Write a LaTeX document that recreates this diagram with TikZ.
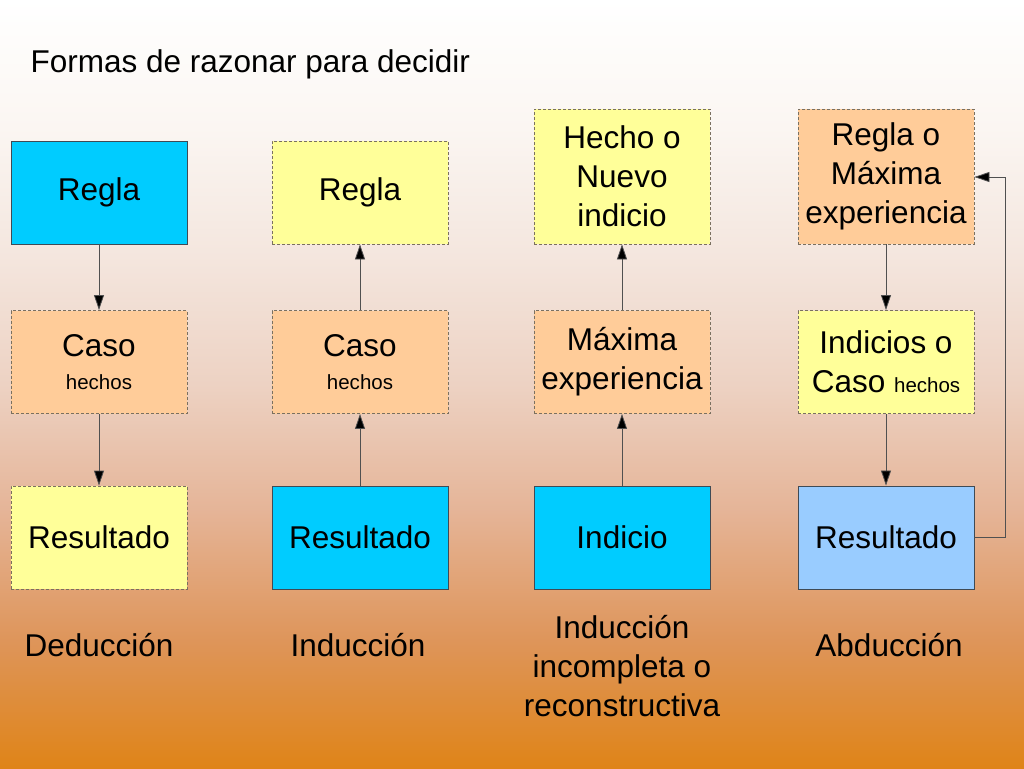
\documentclass[tikz,border=0pt]{standalone}
\usepackage{fontspec}
\setmainfont{Liberation Sans}
\usetikzlibrary{arrows.meta}
\definecolor{bg0}{HTML}{DF8418}
\definecolor{bg1}{HTML}{DE955A}
\definecolor{bg2}{HTML}{E5B497}
\definecolor{bg3}{HTML}{EDD2C3}
\definecolor{bg4}{HTML}{F4E6DE}
\definecolor{bg5}{HTML}{FBF6F2}
\definecolor{bg6}{HTML}{FFFFFF}
\definecolor{cblue}{HTML}{00CCFF}
\definecolor{cyel}{HTML}{FFFF99}
\definecolor{cpeach}{HTML}{FFCC99}
\definecolor{clblue}{HTML}{99CCFF}
\definecolor{cborder}{HTML}{3F4A55}
\definecolor{cdash}{HTML}{7A7060}
\definecolor{carrow}{HTML}{505050}
\pgfdeclareverticalshading{bgshade}{100bp}{
  color(0bp)=(bg0); color(25bp)=(bg0); color(33.3bp)=(bg1); color(41.7bp)=(bg2);
  color(50bp)=(bg3); color(58.3bp)=(bg4); color(66.7bp)=(bg5); color(75bp)=(bg6); color(100bp)=(bg6)}
\tikzset{
  box/.style={rectangle, minimum width=176pt, minimum height=103pt, inner sep=2pt,
    align=center, font=\fontsize{31.5}{39}\selectfont, text=black},
  solidbox/.style={box, draw=cborder, line width=0.9pt},
  dashbox/.style={box, draw=cdash, line width=0.8pt, dash pattern=on 3pt off 2pt},
  tallbox/.style={minimum height=135pt},
  conn/.style={draw=carrow, line width=0.8pt, -{Triangle[length=15pt,width=10pt,fill=black]}},
  lbl/.style={align=center, font=\fontsize{31.5}{39}\selectfont, text=black},
}
\newcommand{\smallhechos}{{\fontsize{20.5}{24}\selectfont hechos}}
\begin{document}
\begin{tikzpicture}[x=1pt,y=1pt]
\useasboundingbox (0,0) rectangle (1024,-768);
\shade[shading=bgshade] (0,0) rectangle (1024,-768);

\node[lbl, anchor=west] (title) at (27,-64) {Formas de razonar para decidir};

% column 1
\node[solidbox, fill=cblue] (r1) at (99,-192.5) {Regla};
\node[dashbox, fill=cpeach] (c1) at (99,-362) {Caso\\[-6pt]\smallhechos};
\node[dashbox, fill=cyel] (s1) at (99,-537.5) {Resultado};
\node[lbl] (l1) at (99,-645) {Deducción};

% column 2
\node[dashbox, fill=cyel] (r2) at (360,-192.5) {Regla};
\node[dashbox, fill=cpeach] (c2) at (360,-362) {Caso\\[-6pt]\smallhechos};
\node[solidbox, fill=cblue] (s2) at (360,-537.5) {Resultado};
\node[lbl] (l2) at (358,-645) {Inducción};

% column 3
\node[dashbox, tallbox, fill=cyel] (r3) at (622,-176.5) {Hecho o\\Nuevo\\indicio};
\node[dashbox, fill=cpeach] (c3) at (622,-362) {Máxima\\experiencia};
\node[solidbox, fill=cblue] (s3) at (622,-537.5) {Indicio};
\node[lbl] (l3) at (622,-666) {Inducción\\incompleta o\\reconstructiva};

% column 4
\node[dashbox, tallbox, fill=cpeach] (r4) at (886,-176.5) {Regla o\\Máxima\\experiencia};
\node[dashbox, fill=cyel] (c4) at (886,-362) {Indicios o\\Caso \smallhechos};
\node[solidbox, fill=clblue] (s4) at (886,-537.5) {Resultado};
\node[lbl] (l4) at (889,-645) {Abducción};

\coordinate (k1) at (1005,-537.5);
\coordinate (k2) at (1005,-177);

% connectors
\draw[conn] (r1) -- (c1);
\draw[conn] (c1) -- (s1);
\draw[conn] (s2) -- (c2);
\draw[conn] (c2) -- (r2);
\draw[conn] (s3) -- (c3);
\draw[conn] (c3) -- (r3);
\draw[conn] (r4) -- (c4);
\draw[conn] (c4) -- (s4);
\draw[conn] (s4.east) -- (k1) -- (k2) -- (r4.east |- k2);
\end{tikzpicture}
\end{document}
